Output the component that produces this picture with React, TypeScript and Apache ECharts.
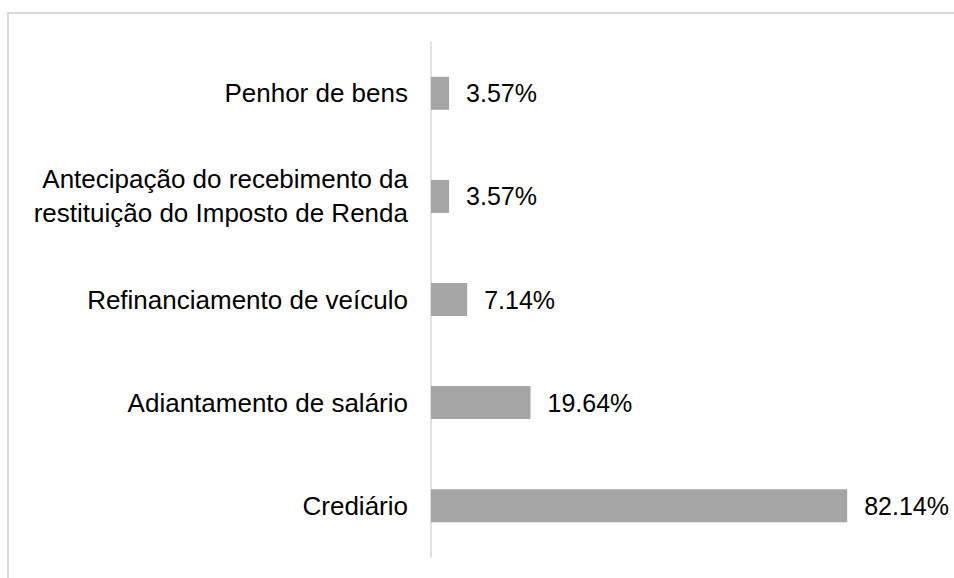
import React, { useEffect, useRef } from "react";
import * as echarts from "echarts";

const categories = [
  "Penhor de bens",
  "Antecipação do recebimento da\nrestituição do Imposto de Renda",
  "Refinanciamento de veículo",
  "Adiantamento de salário",
  "Crediário",
];
const values = [3.57, 3.57, 7.14, 19.64, 82.14];

export default function App() {
  const ref = useRef<HTMLDivElement>(null);
  useEffect(() => {
    document.body.style.margin = "0";
    const chart = echarts.init(ref.current!, null, { renderer: "svg" });
    const font = '"Liberation Sans", Arial, sans-serif';
    chart.setOption({
      animation: false,
      backgroundColor: "#ffffff",
      grid: { left: 431, top: 41.75, width: 506.7, height: 515.5, containLabel: false },
      xAxis: {
        type: "value",
        min: 0,
        max: 100,
        show: false,
      },
      yAxis: {
        type: "category",
        data: categories,
        inverse: true,
        axisLine: { show: true, lineStyle: { color: "#d9d9d9", width: 1.5 } },
        axisTick: { show: false },
        splitLine: { show: false },
        axisLabel: {
          margin: 23,
          color: "#000000",
          fontSize: 26,
          fontFamily: font,
          lineHeight: 34,
          align: "right",
        },
      },
      series: [
        {
          type: "bar",
          data: values,
          barWidth: 33,
          itemStyle: { color: "#a5a5a5" },
          label: {
            show: true,
            position: "right",
            distance: 17,
            color: "#000000",
            fontSize: 25,
            fontFamily: font,
            formatter: (p: any) => Number(p.value).toFixed(2) + "%",
          },
        },
      ],
      graphic: [
        {
          type: "rect",
          shape: { x: 8, y: 13, width: 980, height: 600 },
          style: { fill: "none", stroke: "#d9d9d9", lineWidth: 2 },
          silent: true,
        },
      ],
    });
    return () => chart.dispose();
  }, []);
  return (
    <div
      ref={ref}
      style={{ position: "fixed", left: 0, top: 0, width: 954, height: 578 }}
    />
  );
}
